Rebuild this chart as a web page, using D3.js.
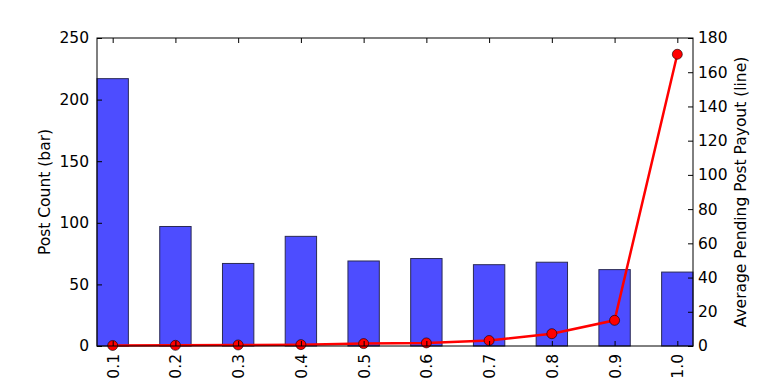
<!DOCTYPE html>
<html>
<head>
<meta charset="utf-8">
<script src="https://cdn.jsdelivr.net/npm/d3@7"></script>
<style>
  body { margin: 0; background: #fff; }
  text { font-family: "DejaVu Sans", sans-serif; }
</style>
</head>
<body>
<svg width="768" height="384"></svg>
<script>
// data
var categories = ['0.1', '0.2', '0.3', '0.4', '0.5', '0.6', '0.7', '0.8', '0.9', '1.0'];
var postCounts = [217, 97, 67, 89, 69, 71, 66, 68, 62, 60];
var avgPayout = [0.3, 0.4, 0.6, 0.8, 1.4, 1.8, 3.2, 7.2, 15, 170.5];
var leftTicks = [0, 50, 100, 150, 200, 250];
var rightTicks = [0, 20, 40, 60, 80, 100, 120, 140, 160, 180];

var svg = d3.select('svg'),
  plotLeft = 97, plotRight = 693, plotTop = 38, plotBottom = 346;

var x = d3.scaleLinear().domain([-0.25, categories.length - 0.75]).range([plotLeft, plotRight]);
var yL = d3.scaleLinear().domain([0, 250]).range([plotBottom, plotTop]);
var yR = d3.scaleLinear().domain([0, 180]).range([plotBottom, plotTop]);

// bars
svg.append('g')
  .selectAll('rect')
  .data(postCounts)
  .enter().append('rect')
  .attr('x', function(d, i) { return x(i - 0.25); })
  .attr('width', function() { return x(0.25) - x(-0.25); })
  .attr('y', function(d) { return yL(d); })
  .attr('height', function(d) { return plotBottom - yL(d); })
  .attr('fill', '#4d4dff')
  .attr('stroke', '#2a2a55')
  .attr('stroke-width', 1);

// line on secondary axis
var line = d3.line()
  .x(function(d, i) { return x(i); })
  .y(function(d) { return yR(d); });

svg.append('path')
  .datum(avgPayout)
  .attr('d', line)
  .attr('fill', 'none')
  .attr('stroke', '#ff0000')
  .attr('stroke-width', 2.5);

svg.append('g')
  .selectAll('circle')
  .data(avgPayout)
  .enter().append('circle')
  .attr('cx', function(d, i) { return x(i); })
  .attr('cy', function(d) { return yR(d); })
  .attr('r', 5)
  .attr('fill', '#ff0000')
  .attr('stroke', '#000')
  .attr('stroke-width', 0.6);

// frame
svg.append('rect')
  .attr('x', plotLeft).attr('y', plotTop)
  .attr('width', plotRight - plotLeft).attr('height', plotBottom - plotTop)
  .attr('fill', 'none').attr('stroke', '#000').attr('stroke-width', 1);

var tickLen = 5;

// x ticks (bottom + top, inward) and rotated labels
var xAxisB = d3.axisBottom(x)
  .tickValues(d3.range(categories.length))
  .tickFormat(function(i) { return categories[i]; })
  .tickSizeInner(-tickLen).tickSizeOuter(0).tickPadding(8);
var gxb = svg.append('g').attr('transform', 'translate(0,' + plotBottom + ')').call(xAxisB);
gxb.selectAll('text')
  .attr('transform', 'rotate(-90)')
  .attr('x', -8).attr('y', 0).attr('dy', '0.35em')
  .style('text-anchor', 'end');

var xAxisT = d3.axisTop(x)
  .tickValues(d3.range(categories.length))
  .tickFormat('')
  .tickSizeInner(-tickLen).tickSizeOuter(0);
svg.append('g').attr('transform', 'translate(0,' + plotTop + ')').call(xAxisT);

// left axis
svg.append('g').attr('transform', 'translate(' + plotLeft + ',0)')
  .call(d3.axisLeft(yL).tickValues(leftTicks).tickSizeInner(-tickLen).tickSizeOuter(0).tickPadding(8));

// right axis
svg.append('g').attr('transform', 'translate(' + plotRight + ',0)')
  .call(d3.axisRight(yR).tickValues(rightTicks).tickSizeInner(-tickLen).tickSizeOuter(0).tickPadding(5));

svg.selectAll('.domain').remove();
svg.selectAll('.tick line').attr('stroke', '#000');
svg.selectAll('.tick text').attr('fill', '#000').style('font-size', '15.5px').style('font-family', '"DejaVu Sans", sans-serif');

// axis titles
svg.append('text')
  .attr('transform', 'translate(45,' + ((plotTop + plotBottom) / 2) + ') rotate(-90)')
  .attr('text-anchor', 'middle').attr('dy', '0.35em')
  .style('font-size', '15.5px')
  .text('Post Count (bar)');

svg.append('text')
  .attr('transform', 'translate(741,' + ((plotTop + plotBottom) / 2) + ') rotate(-90)')
  .attr('text-anchor', 'middle').attr('dy', '0.35em')
  .style('font-size', '15.5px')
  .text('Average Pending Post Payout (line)');
</script>
</body>
</html>
